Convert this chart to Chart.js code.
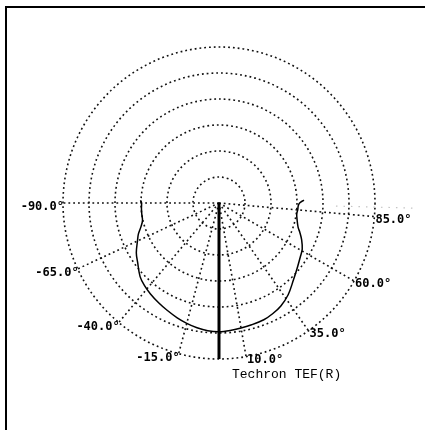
<!DOCTYPE html>
<html>
<head>
<meta charset="utf-8">
<script src="https://cdn.jsdelivr.net/npm/chart.js@4/dist/chart.umd.min.js"></script>
<style>
  html, body { margin: 0; padding: 0; background: #fff; }
  #wrap { position: relative; width: 425px; height: 430px; }
</style>
</head>
<body>
<div id="wrap"><canvas id="polar"></canvas></div>
<script>
// Polar response: 0° points straight down, positive angles to the right.
const angleDeg = [-92, -90, -86, -82, -77, -73, -69, -65, -59, -54, -47, -42, -37, -31, -26, -20, -15, -10, -5, 0,
                  5, 10, 15, 21, 26, 31, 37, 44, 50, 57, 61, 66, 70, 73, 78, 82, 85, 88, 90, 92];
const level    = [30.2, 29.8, 29.9, 30.0, 30.2, 31.4, 33.2, 34.6, 37.1, 38.7, 41.5, 42.8, 43.8, 44.9, 45.8, 47.0, 47.9, 48.7, 49.3, 49.5,
                  49.2, 48.8, 48.5, 48.1, 47.3, 46.2, 44.2, 41.2, 39.2, 37.4, 36.6, 34.8, 33.1, 31.8, 30.7, 30.2, 30.4, 30.5, 31.0, 32.7];

// On-axis reference bar
const axisAngle = [0, 0];
const axisLevel = [0, 60];

// Grid
const ringLevels  = [10, 20, 30, 40, 50, 60];
const spokeAngles = [-90, -65, -40, -15, 10, 35, 60, 85];
const spokeLabels = ['-90.0°', '-65.0°', '-40.0°', '-15.0°', '10.0°', '35.0°', '60.0°', '85.0°'];
const caption = 'Techron TEF(R)';

const rad = d => d * Math.PI / 180;
const toXY = (a, r) => ({ x: r * Math.sin(rad(a)), y: -r * Math.cos(rad(a)) });

const curve = angleDeg.map((a, i) => toXY(a, level[i]));
const axisBar = axisAngle.map((a, i) => toXY(a, axisLevel[i]));

// 2.6 px per level unit, pole at (219, 203)
const U = 2.6;
const W = 425, H = 430, CX = 219, CY = 203;

const gridPlugin = {
  id: 'polarGrid',
  beforeDatasetsDraw(chart) {
    const { ctx, scales: { x, y } } = chart;
    const cx = x.getPixelForValue(0), cy = y.getPixelForValue(0);
    const px = v => x.getPixelForValue(v) - cx;
    ctx.save();
    ctx.strokeStyle = '#111';
    ctx.lineWidth = 1.6;
    ctx.setLineDash([1.8, 3]);
    ringLevels.forEach(r => {
      ctx.beginPath();
      ctx.arc(cx, cy, px(r), 0, Math.PI * 2);
      ctx.stroke();
    });
    const outer = ringLevels[ringLevels.length - 1];
    spokeAngles.forEach(a => {
      const p = toXY(a, outer);
      ctx.beginPath();
      ctx.moveTo(cx, cy);
      ctx.lineTo(x.getPixelForValue(p.x), y.getPixelForValue(p.y));
      ctx.stroke();
    });
    // faint extension on the right
    ctx.strokeStyle = '#c4c4c4';
    ctx.lineWidth = 1.2;
    ctx.setLineDash([1.5, 6]);
    const p1 = toXY(88.5, 45), p2 = toXY(88.5, 75);
    ctx.beginPath();
    ctx.moveTo(x.getPixelForValue(p1.x), y.getPixelForValue(p1.y));
    ctx.lineTo(x.getPixelForValue(p2.x), y.getPixelForValue(p2.y));
    ctx.stroke();
    ctx.restore();

    // angle labels at the spoke ends
    ctx.save();
    ctx.fillStyle = '#000';
    ctx.font = 'bold 12px "DejaVu Sans Mono", monospace';
    ctx.textBaseline = 'middle';
    spokeAngles.forEach((a, i) => {
      const p = toXY(a, outer);
      const lx = x.getPixelForValue(p.x), ly = y.getPixelForValue(p.y);
      if (a < 0) {
        ctx.textAlign = 'right';
        ctx.fillText(spokeLabels[i], lx + 1, ly + 4);
      } else {
        ctx.textAlign = 'left';
        ctx.fillText(spokeLabels[i], lx + 1, ly + 3);
      }
    });
    ctx.font = '13px "Liberation Mono", "Courier New", monospace';
    ctx.textAlign = 'left';
    ctx.fillText(caption, 232, 375);
    ctx.restore();
  },
  afterDraw(chart) {
    const { ctx } = chart;
    ctx.save();
    ctx.strokeStyle = '#000';
    ctx.lineWidth = 2;
    ctx.setLineDash([]);
    ctx.beginPath();
    ctx.moveTo(6, 430);
    ctx.lineTo(6, 7);
    ctx.lineTo(425, 7);
    ctx.stroke();
    ctx.restore();
  }
};

new Chart(document.getElementById('polar'), {
  type: 'scatter',
  data: {
    datasets: [
      {
        data: curve,
        showLine: true,
        borderColor: '#000',
        borderWidth: 1.5,
        pointRadius: 0,
        tension: 0.35
      },
      {
        data: axisBar,
        showLine: true,
        borderColor: '#000',
        borderWidth: 3,
        pointRadius: 0
      }
    ]
  },
  options: {
    responsive: true,
    maintainAspectRatio: false,
    animation: false,
    layout: { padding: 0 },
    plugins: { legend: { display: false }, tooltip: { enabled: false } },
    scales: {
      x: { type: 'linear', display: false, min: -CX / U, max: (W - CX) / U },
      y: { type: 'linear', display: false, min: -(H - CY) / U, max: CY / U }
    }
  },
  plugins: [gridPlugin]
});
</script>
</body>
</html>
